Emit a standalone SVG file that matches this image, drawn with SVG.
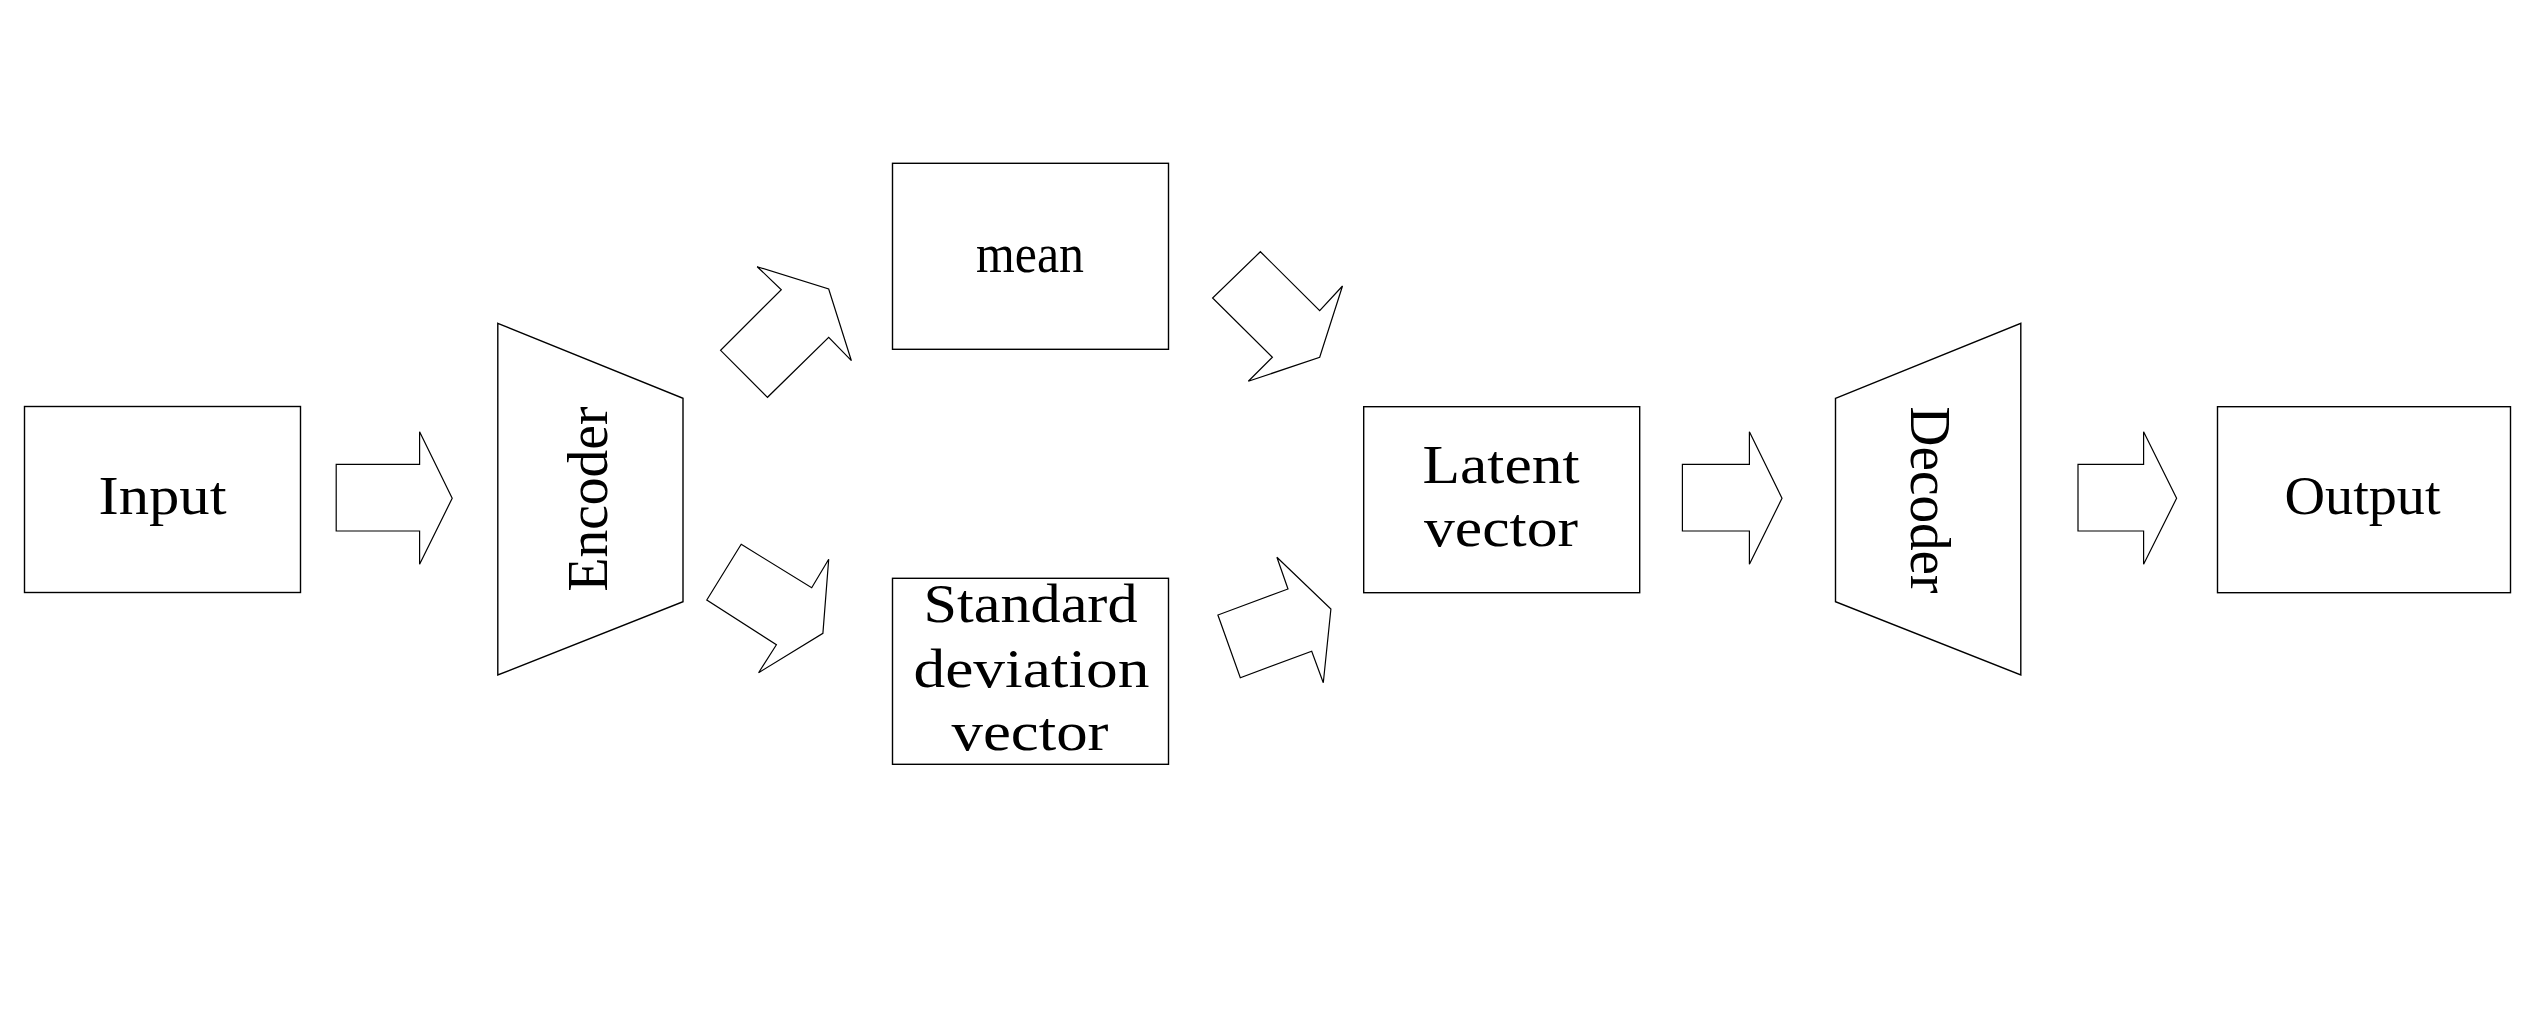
<svg xmlns="http://www.w3.org/2000/svg" width="2529" height="1034" viewBox="0 0 2529 1034">
<style>
.box{fill:#fff;stroke:#000;stroke-width:1.4}
.arr{fill:#fff;stroke:#000;stroke-width:1.2;stroke-linejoin:miter}
.lbl{font-family:"Liberation Serif","Times New Roman",serif;font-size:55px;fill:#000;text-anchor:middle}
.vlbl{font-family:"Liberation Serif","Times New Roman",serif;font-size:56px;fill:#000;text-anchor:middle}
</style>
<rect width="2529" height="1034" fill="#fff"/>
<g id="connectors">
<polygon class="arr" points="336.2,464.3 419.6,464.3 419.6,431.7 452.2,498.3 419.6,564.3 419.6,531 336.2,531"/>
<polygon class="arr" points="757.2,266.7 828.7,289 851.4,360.7 828.7,337.3 767.5,397.3 720.6,350.3 781.3,289.7"/>
<polygon class="arr" points="741.2,544.3 811.7,587.7 828.7,559.3 822.9,633.3 758.6,672.7 776.4,644.7 706.8,600"/>
<polygon class="arr" points="1260.4,251.7 1319.7,310.7 1342.5,286 1319.7,357.3 1248.3,381.3 1272.4,357.3 1212.6,298"/>
<polygon class="arr" points="1276.9,557.3 1330.9,609 1323.3,682.7 1311.7,651.3 1240.3,677.7 1217.9,615 1288,589"/>
<polygon class="arr" points="1682.4,464.3 1749.4,464.3 1749.4,431.7 1782,498.3 1749.4,564.3 1749.4,531 1682.4,531"/>
<polygon class="arr" points="2078,464.3 2143.6,464.3 2143.6,431.7 2176.6,498.3 2143.6,564.3 2143.6,531 2078,531"/>
</g>
<g id="input">
<rect class="box" x="24.5" y="406.5" width="276" height="186"/>
<text class="lbl" x="162.5" y="514" textLength="128" lengthAdjust="spacingAndGlyphs">Input</text>
</g>
<g id="encoder">
<polygon class="box" points="497.8,323.3 683,398.3 683,601.7 497.8,675"/>
<text class="vlbl" transform="translate(607,499) rotate(-90)" x="0" y="0" textLength="185" lengthAdjust="spacingAndGlyphs">Encoder</text>
</g>
<g id="mean">
<rect class="box" x="892.5" y="163.3" width="276" height="186"/>
<text class="lbl" x="1030" y="272" textLength="108" lengthAdjust="spacingAndGlyphs">mean</text>
</g>
<g id="std">
<rect class="box" x="892.5" y="578.3" width="276" height="186"/>
<text class="lbl" x="1030.5" y="621.7" textLength="214" lengthAdjust="spacingAndGlyphs">Standard</text>
<text class="lbl" x="1031.5" y="686.7" textLength="236" lengthAdjust="spacingAndGlyphs">deviation</text>
<text class="lbl" x="1030" y="750" textLength="157" lengthAdjust="spacingAndGlyphs">vector</text>
</g>
<g id="latent">
<rect class="box" x="1363.7" y="406.7" width="276" height="186"/>
<text class="lbl" x="1501" y="482.7" textLength="157" lengthAdjust="spacingAndGlyphs">Latent</text>
<text class="lbl" x="1501" y="546" textLength="154" lengthAdjust="spacingAndGlyphs">vector</text>
</g>
<g id="decoder">
<polygon class="box" points="1835.5,398.3 2020.8,323.3 2020.8,675 1835.5,601.7"/>
<text class="vlbl" transform="translate(1911,500) rotate(90)" x="0" y="0" textLength="187" lengthAdjust="spacingAndGlyphs">Decoder</text>
</g>
<g id="output">
<rect class="box" x="2217.5" y="406.7" width="293" height="186"/>
<text class="lbl" x="2362.5" y="514.3" textLength="156" lengthAdjust="spacingAndGlyphs">Output</text>
</g>
</svg>
